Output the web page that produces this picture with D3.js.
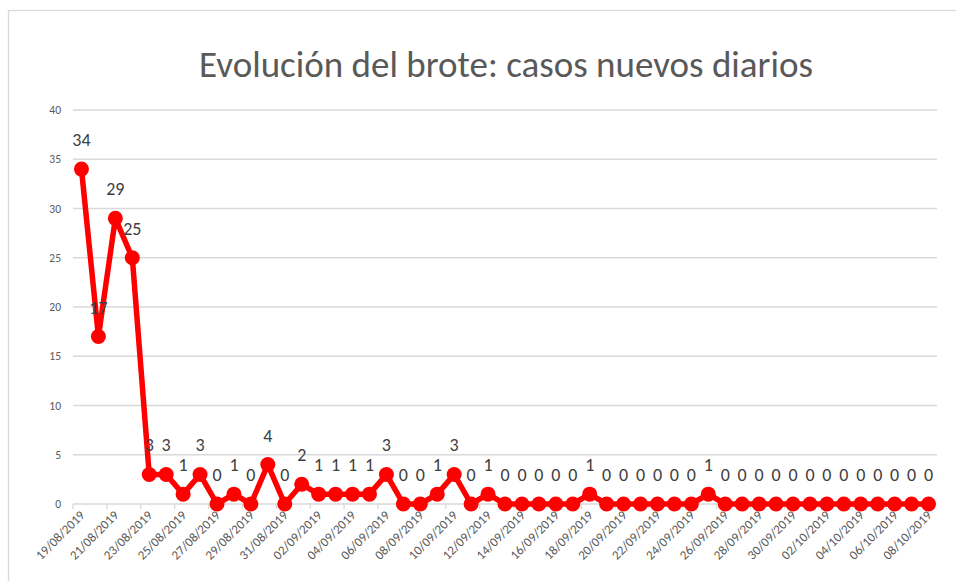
<!DOCTYPE html>
<html lang="es">
<head>
    <meta charset="utf-8"/>
    <title>Evolución del brote</title>
    <style>
        body { margin: 0; background: #fff; }
        text { font-family: Carlito, Calibri, Lato, sans-serif; }
        .grid line { stroke: #d9d9d9; stroke-width: 1.3px; }
        .ylab { fill: #595959; font-size: 11.5px; }
        .xlab { fill: #595959; font-size: 13px; }
        .dlab { fill: #404040; font-size: 18px; }
        .title { fill: #595959; font-size: 37px; font-weight: 300; }
    </style>
</head>
<body>
<div class="viz"></div>
<script src="https://cdnjs.cloudflare.com/ajax/libs/d3/7.8.5/d3.min.js"></script>
<script>
    // fechas (una por dia)
    var dates = [
        "19/08/2019","20/08/2019","21/08/2019","22/08/2019","23/08/2019","24/08/2019","25/08/2019",
        "26/08/2019","27/08/2019","28/08/2019","29/08/2019","30/08/2019","31/08/2019","01/09/2019",
        "02/09/2019","03/09/2019","04/09/2019","05/09/2019","06/09/2019","07/09/2019","08/09/2019",
        "09/09/2019","10/09/2019","11/09/2019","12/09/2019","13/09/2019","14/09/2019","15/09/2019",
        "16/09/2019","17/09/2019","18/09/2019","19/09/2019","20/09/2019","21/09/2019","22/09/2019",
        "23/09/2019","24/09/2019","25/09/2019","26/09/2019","27/09/2019","28/09/2019","29/09/2019",
        "30/09/2019","01/10/2019","02/10/2019","03/10/2019","04/10/2019","05/10/2019","06/10/2019",
        "07/10/2019","08/10/2019"
    ];

    // casos nuevos diarios
    var cases = [
        34, 17, 29, 25, 3, 3, 1,
        3, 0, 1, 0, 4, 0, 2,
        1, 1, 1, 1, 3, 0, 0,
        1, 3, 0, 1, 0, 0, 0,
        0, 0, 1, 0, 0, 0, 0,
        0, 0, 1, 0, 0, 0, 0,
        0, 0, 0, 0, 0, 0, 0,
        0, 0
    ];

    var yTicks = [0, 5, 10, 15, 20, 25, 30, 35, 40];

    var title = "Evolución del brote: casos nuevos diarios";

    var width = 956, height = 581;
    var plot = { left: 73, right: 937, top: 110, bottom: 504 };

    var svg = d3.select(".viz").append("svg")
        .attr("width", width)
        .attr("height", height);

    // marco del grafico
    svg.append("rect")
        .attr("x", 8.5).attr("y", 10.5)
        .attr("width", 980).attr("height", 600)
        .attr("fill", "none")
        .attr("stroke", "#d9d9d9")
        .attr("stroke-width", 1.3);

    var x = d3.scaleBand()
        .domain(dates)
        .range([plot.left, plot.right]);

    var y = d3.scaleLinear()
        .domain([0, 40])
        .range([plot.bottom, plot.top]);

    var cx = function(d) { return x(d) + x.bandwidth() / 2; };

    // lineas de cuadricula
    svg.append("g")
        .attr("class", "grid")
        .selectAll("line")
        .data(yTicks.filter(function(t) { return t > 0; }))
        .enter().append("line")
        .attr("x1", plot.left).attr("x2", plot.right)
        .attr("y1", function(d) { return y(d); })
        .attr("y2", function(d) { return y(d); });

    svg.selectAll(".ylab")
        .data(yTicks)
        .enter().append("text")
        .attr("class", "ylab")
        .attr("x", 61)
        .attr("y", function(d) { return y(d) + 4; })
        .attr("text-anchor", "end")
        .text(function(d) { return d; });

    // eje x
    var shown = dates.filter(function(d, i) { return i % 2 === 0; });

    var xAxis = svg.append("g").attr("class", "xaxis");
    xAxis.append("line")
        .attr("x1", plot.left).attr("x2", plot.right)
        .attr("y1", y(0)).attr("y2", y(0))
        .attr("stroke", "#d9d9d9").attr("stroke-width", 1.3);

    xAxis.selectAll(".tick")
        .data(shown)
        .enter().append("line")
        .attr("x1", function(d) { return x(d); })
        .attr("x2", function(d) { return x(d); })
        .attr("y1", y(0)).attr("y2", y(0) + 5)
        .attr("stroke", "#d9d9d9").attr("stroke-width", 1.3);

    xAxis.selectAll(".xlab")
        .data(shown)
        .enter().append("text")
        .attr("class", "xlab")
        .attr("text-anchor", "end")
        .attr("transform", function(d) {
            return "translate(" + (cx(d) + 4) + "," + (y(0) + 12) + ") rotate(-45)";
        })
        .text(function(d) { return d; });

    // serie
    var series = dates.map(function(d, i) { return { date: d, value: cases[i] }; });

    var line = d3.line()
        .x(function(d) { return cx(d.date); })
        .y(function(d) { return y(d.value); });

    svg.append("path")
        .datum(series)
        .attr("d", line)
        .attr("fill", "none")
        .attr("stroke", "#ff0000")
        .attr("stroke-width", 5.5)
        .attr("stroke-linejoin", "round");

    svg.selectAll(".dot")
        .data(series)
        .enter().append("circle")
        .attr("class", "dot")
        .attr("cx", function(d) { return cx(d.date); })
        .attr("cy", function(d) { return y(d.value); })
        .attr("r", 7.5)
        .attr("fill", "#ff0000");

    svg.selectAll(".dlab")
        .data(series)
        .enter().append("text")
        .attr("class", "dlab")
        .attr("text-anchor", "middle")
        .attr("x", function(d) { return cx(d.date); })
        .attr("y", function(d) { return y(d.value) - 23; })
        .text(function(d) { return d.value; });

    // titulo
    svg.append("text")
        .attr("class", "title")
        .attr("x", 506)
        .attr("y", 77)
        .attr("text-anchor", "middle")
        .text(title);
</script>
</body>
</html>
